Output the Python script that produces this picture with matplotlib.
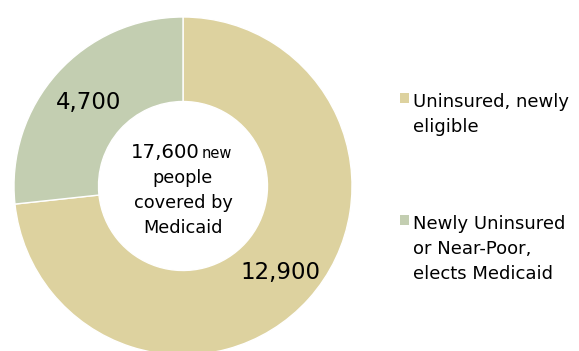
import matplotlib
matplotlib.use("Agg")
import matplotlib.pyplot as plt
from matplotlib.patches import Rectangle

categories = ["Uninsured, newly\neligible", "Newly Uninsured\nor Near-Poor,\nelects Medicaid"]
values = [12900, 4700]
value_labels = ["12,900", "4,700"]
colors = ["#DDD29F", "#C3CEB1"]
total_label = "17,600"

W, H = 579, 351
fig = plt.figure(figsize=(W / 100, H / 100), dpi=100)
ax = fig.add_axes([0, 0, 1, 1])

cx, cy, R = 183, H - 186, 169
ax.pie(values, colors=colors, startangle=90, counterclock=False,
       center=(cx, cy), radius=R, frame=True,
       wedgeprops=dict(width=R * 0.5, edgecolor="white", linewidth=1))
ax.set_xlim(0, W)
ax.set_ylim(0, H)
ax.set_aspect("equal")
ax.axis("off")

fam = "DejaVu Sans"
ax.text(280, H - 273, value_labels[0], fontsize=16.5, family=fam, ha="center", va="center")
ax.text(89, H - 103, value_labels[1], fontsize=16.5, family=fam, ha="center", va="center")

# centre text
ax.text(165, H - 152, total_label, fontsize=14.2, family=fam, ha="center", va="center")
ax.text(217, H - 153, "new", fontsize=10.5, family=fam, ha="center", va="center")
ax.text(cx, H - 178, "people", fontsize=12.8, family=fam, ha="center", va="center")
ax.text(cx, H - 203, "covered by", fontsize=12.8, family=fam, ha="center", va="center")
ax.text(cx, H - 228, "Medicaid", fontsize=12.8, family=fam, ha="center", va="center")

# legend
leg_y = [98, 220]
for lab, col, y in zip(categories, colors, leg_y):
    ax.add_patch(Rectangle((400, H - y - 5), 9, 10, facecolor=col, edgecolor="none"))
    for i, line in enumerate(lab.split("\n")):
        ax.text(413, H - (y + 4 + 25 * i), line, fontsize=13, family=fam,
                ha="left", va="center")

fig.savefig("out.png", dpi=100)
